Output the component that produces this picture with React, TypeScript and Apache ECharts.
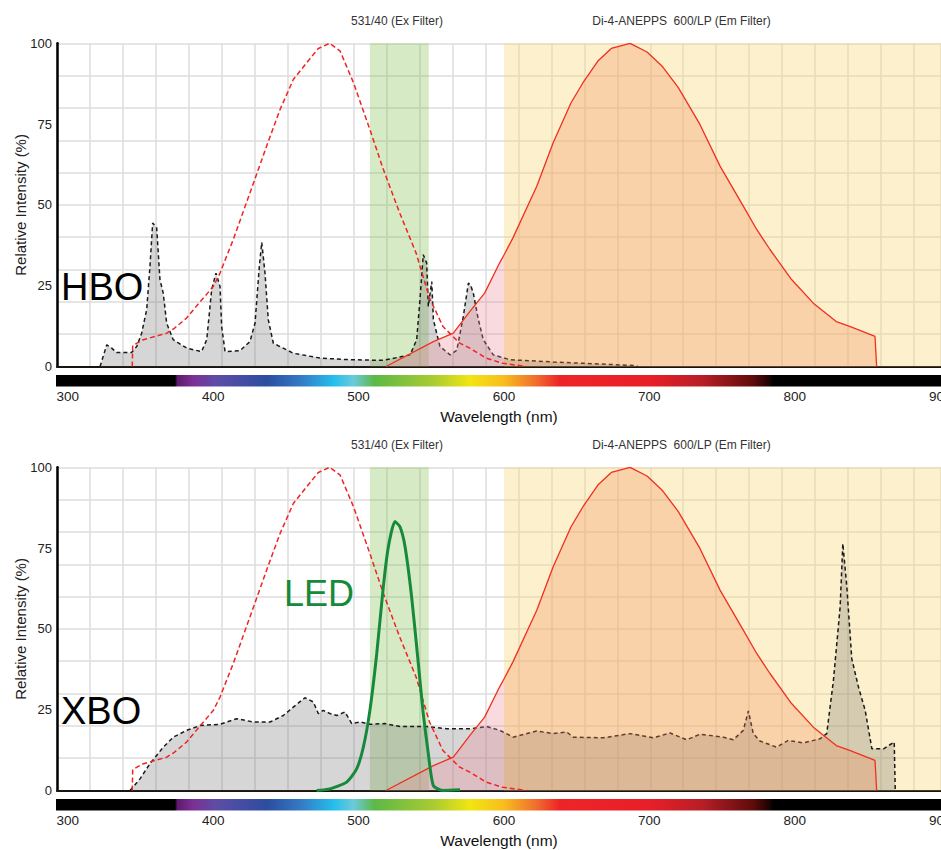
import React, { useEffect, useRef } from "react";
import * as echarts from "echarts";

// ---- data (wavelength nm, relative intensity %) ----
const dyeExcitation: [number, number][] = [
  [350.5, 0], [350.8, 6.5], [358, 8.3], [373.6, 10.3], [379, 11.9], [387, 15], [396, 20], [405, 24.8],
  [409.4, 28.9], [418.3, 39.3], [429.5, 53.7], [440.7, 68.2], [449.7, 79.5], [458.6, 88.8], [467.6, 94],
  [475.4, 98.4], [483, 100], [490, 97.6], [499, 87.8], [510, 73.3], [519, 61], [530, 47.5], [541, 35.1],
  [550, 21.2], [559, 12.4], [570, 7.3], [577, 5.7], [588, 2.6], [599, 1.0], [615, 0],
];

const dyeEmission: [number, number][] = [
  [520.8, 0], [552.6, 7.7], [566, 10.3], [577, 17], [587, 22.7], [597, 32], [600, 34.5], [606, 39.8], [622, 55.8],
  [633, 69.2], [645, 81.6], [653, 87.8], [663, 94.5], [672, 98.4], [684.6, 100], [696, 97.3], [706, 93],
  [717, 86.3], [731.5, 74.9], [745, 62], [760.6, 49.6], [769.6, 42.4], [778.5, 36.2], [793, 26.9],
  [807.6, 19.6], [823, 13.9], [832, 12.4], [849, 9.3], [850.1, 0],
];

const hboSpectrum: [number, number][] = [
  [328.9, 0], [333.4, 6.7], [336.7, 5.7], [340, 4.3], [350, 4.3], [353.5, 6.2], [356.8, 10.3], [360.2, 17.6],
  [362.4, 31], [364.2, 44.4], [366.9, 42.9], [369.1, 26.9], [371.3, 22.7], [373.6, 13.4], [378, 8.3],
  [387, 5.7], [397, 4.6], [400.5, 8.3], [403.8, 23.8], [406.7, 28.9], [409.4, 24.8], [410.5, 12.4],
  [412.8, 4.6], [422.8, 4.9], [429.5, 7.7], [432.9, 13.4], [435.8, 31], [437.4, 38.4], [439.6, 28.9],
  [441.8, 14.5], [445.2, 7.2], [458.6, 4.1], [476.5, 2.6], [496.6, 2.1], [519, 1.9], [537, 3.6],
  [541.4, 8.3], [543.6, 20.7], [545.8, 34.6], [548.1, 32], [549.2, 18.6], [551.5, 26.3], [552.6, 14.5],
  [557, 6.2], [563.8, 3.6], [568.3, 5], [572.7, 15.5], [576.1, 25.8], [577.5, 25.3], [579.4, 22.7],
  [582.8, 14.5], [586.1, 8.3], [592.8, 3.6], [604, 2.1], [633, 1.4], [687, 0.3], [690, 0],
];

const xboSpectrum: [number, number][] = [
  [349, 0], [355.7, 3.6], [362.4, 8.3], [371.3, 13.4], [378, 16.5], [387, 18.6], [396, 20.1], [409.4, 20.5],
  [420.6, 22.2], [431.9, 21.2], [443, 21.2], [451.9, 23.2], [458.6, 25.8], [466.4, 28.7], [472, 27.4],
  [475.4, 23.8], [478.7, 24.8], [483.2, 23.8], [487.7, 23.2], [493.3, 24.3], [497.8, 20.7], [503.4, 21.2],
  [510, 20.5], [520.1, 20.7], [530.2, 19.8], [548.1, 19.8], [561.5, 19.1], [577.2, 19.1], [588.4, 19.8],
  [597.3, 18.6], [606.2, 16.5], [621.9, 18.4], [633.1, 17.6], [642.1, 18.1], [646.5, 16.5], [666.7, 16.3],
  [684.6, 17.6], [700.2, 16.3], [711.4, 17.8], [722.6, 15.7], [731.5, 17.4], [747.2, 16.5], [753.9, 15.7],
  [760.6, 18.6], [764, 24.6], [767.3, 17.6], [771.8, 15.3], [783, 13.4], [790.8, 15.5], [800.9, 14.7],
  [812.1, 16], [816.6, 17.6], [821.1, 34.1], [825.6, 56.8], [827.4, 76.4], [830.1, 63], [833.4, 40.8],
  [837.9, 32], [842.4, 24.8], [846.9, 12.9], [854.7, 12.9], [861.9, 15], [862.6, 0],
];

const ledSpectrum: [number, number][] = [
  [474.3, 0], [483.2, 0.5], [494.4, 2.6], [501.1, 6.7], [505.6, 13.4], [510, 24.8], [514.6, 42.4],
  [519, 63], [522.4, 75.4], [526.8, 83.2], [530.2, 81.6], [533.6, 75.4], [538, 59.9], [542.5, 39.3],
  [545.8, 23.8], [549.2, 11.4], [552.6, 1.5], [559.3, 0], [570.5, 0.2],
];

const exFilterBand: [number, number] = [510, 549.5];
const emFilterStart = 600;
const wavelengthTicks = [300, 400, 500, 600, 700, 800, 900];
const lampNames = ["HBO", "XBO"];
const exFilterLabel = "531/40 (Ex Filter)";
const emFilterLabel = "Di-4-ANEPPS  600/LP (Em Filter)";

// ---- layout ----
const FONT = "'Liberation Sans', Arial, Helvetica, sans-serif";
const PLOT_LEFT = 57;
const PLOT_W = 884;
const PX_PER_NM = 1.49;
const WL_MIN = 300;
const WL_MAX = WL_MIN + PLOT_W / PX_PER_NM;
const GRID_STEP_PX = 32.96;
const LABEL_MIN = 292.6;
const LABEL_MAX = LABEL_MIN + PLOT_W / 1.454;
const PANEL_TOP = [43.3, 467.3];
const PANEL_H = 323.2;

const spectrumStops: [number, string][] = [
  [0, "#000000"], [0.1345, "#000000"], [0.137, "#5f1a6e"], [0.155, "#7b3095"], [0.181, "#5e4ca6"],
  [0.238, "#2c4da0"], [0.276, "#3479c5"], [0.313, "#23bdec"], [0.336, "#6acbdb"], [0.36, "#5db847"],
  [0.426, "#a9cb32"], [0.468, "#f2e512"], [0.505, "#f8be1e"], [0.544, "#f06a2e"], [0.569, "#ed2427"],
  [0.671, "#e81f28"], [0.731, "#b71e27"], [0.788, "#5e0b0b"], [0.807, "#1a0202"], [0.81, "#000000"],
  [1, "#000000"],
];

export default function App() {
  const ref = useRef<HTMLDivElement>(null);
  useEffect(() => {
    if (!ref.current) return;
    const chart = echarts.init(ref.current, undefined, { renderer: "svg" });

    const grids: any[] = [];
    const xAxes: any[] = [];
    const yAxes: any[] = [];
    const series: any[] = [];
    const graphics: any[] = [];

    const emissionShort = dyeEmission.filter(([w]) => w <= emFilterStart);
    const emissionLong = dyeEmission.filter(([w]) => w >= emFilterStart);

    [0, 1].forEach((p) => {
      const top = PANEL_TOP[p];
      grids.push({ left: PLOT_LEFT, top, width: PLOT_W, height: PANEL_H, outerBoundsMode: "none", containLabel: false });
      // data axis
      xAxes.push({
        type: "value", gridIndex: p, position: "bottom", min: WL_MIN, max: WL_MAX,
        axisLine: { show: true, onZero: false, lineStyle: { color: "#1a1410", width: 2.2 } },
        axisTick: { show: false }, axisLabel: { show: false }, splitLine: { show: false },
      });
      // grid-line axis
      xAxes.push({
        type: "value", gridIndex: p, position: "bottom", min: 0, max: PLOT_W, interval: GRID_STEP_PX,
        axisLine: { show: false }, axisTick: { show: false }, axisLabel: { show: false },
        splitLine: { show: true, lineStyle: { color: "#dddddd", width: 1.5 } },
      });
      // label axis
      xAxes.push({
        type: "value", gridIndex: p, position: "bottom", min: LABEL_MIN, max: LABEL_MAX,
        axisLine: { show: false, onZero: false }, axisTick: { show: false }, splitLine: { show: false },
        axisLabel: {
          show: true, margin: 23, fontSize: 13.5, color: "#222", fontFamily: FONT,
          showMinLabel: false, showMaxLabel: false,
          formatter: (v: number) => (wavelengthTicks.includes(Math.round(v * 1000) / 1000) ? String(v) : ""),
        },
        name: "Wavelength (nm)", nameLocation: "middle", nameGap: 42, nameMoveOverlap: false,
        nameTextStyle: { fontSize: 15.5, color: "#111", fontFamily: FONT },
      });
      yAxes.push({
        type: "value", gridIndex: p, position: "left", min: 0, max: 100, interval: 10,
        axisLine: { show: true, onZero: false, lineStyle: { color: "#000", width: 2.5 } },
        axisTick: { show: false }, axisLabel: { show: false },
        splitLine: { show: true, lineStyle: { color: "#dddddd", width: 1.5 } },
      });
      yAxes.push({
        type: "value", gridIndex: p, position: "left", min: 0, max: 100, interval: 25,
        axisLine: { show: false, onZero: false }, axisTick: { show: false }, splitLine: { show: false },
        axisLabel: { show: true, margin: 5, fontSize: 13, color: "#222", fontFamily: FONT },
        name: "Relative Intensity (%)", nameLocation: "middle", nameGap: 29, nameRotate: 90,
        nameMoveOverlap: false,
        nameTextStyle: { fontSize: 15, color: "#222", fontFamily: FONT },
      });

      const xi = p * 3;
      const yi = p * 2;
      // filter bands
      series.push({
        type: "line", xAxisIndex: xi, yAxisIndex: yi, data: [], silent: true, z: 1,
        markArea: {
          silent: true,
          data: [
            [{ xAxis: exFilterBand[0], itemStyle: { color: "rgba(130,195,80,0.33)" } }, { xAxis: exFilterBand[1] }],
            [{ xAxis: emFilterStart, itemStyle: { color: "rgba(250,215,120,0.38)" } }, { xAxis: WL_MAX }],
          ],
        },
      });
      // lamp spectrum
      series.push({
        type: "line", name: lampNames[p], xAxisIndex: xi, yAxisIndex: yi, z: 2,
        data: p === 0 ? hboSpectrum : xboSpectrum, symbol: "none", silent: true,
        lineStyle: { color: "#1a1a1a", width: 1.5, type: [4, 3] },
        areaStyle: { color: "rgba(100,100,100,0.38)" },
      });
      // dye emission: pink fill below 600 nm, orange above
      series.push({
        type: "line", name: "Di-4-ANEPPS emission", xAxisIndex: xi, yAxisIndex: yi, z: 3,
        data: emissionShort, symbol: "none", silent: true,
        lineStyle: { color: "#f0301e", width: 1.3 },
        areaStyle: { color: "rgba(236,138,150,0.45)" },
      });
      series.push({
        type: "line", name: "Di-4-ANEPPS emission", xAxisIndex: xi, yAxisIndex: yi, z: 3,
        data: emissionLong, symbol: "none", silent: true,
        lineStyle: { color: "#f0301e", width: 1.3 },
        areaStyle: { color: "rgba(242,142,93,0.45)" },
      });
      // dye excitation
      series.push({
        type: "line", name: "Di-4-ANEPPS excitation", xAxisIndex: xi, yAxisIndex: yi, z: 4,
        data: dyeExcitation, symbol: "none", silent: true,
        lineStyle: { color: "#f22222", width: 1.5, type: [5, 3] },
      });
      if (p === 1) {
        series.push({
          type: "line", name: "LED", xAxisIndex: xi, yAxisIndex: yi, z: 5,
          data: ledSpectrum, symbol: "none", silent: true, smooth: 0.2,
          lineStyle: { color: "#16893b", width: 3 },
        });
      }

      // colour spectrum bar
      graphics.push({
        type: "rect", shape: { x: 56, y: top + PANEL_H + 8.5, width: 885, height: 11.5 },
        style: {
          fill: new echarts.graphic.LinearGradient(0, 0, 1, 0,
            spectrumStops.map(([offset, color]) => ({ offset, color }))),
        },
        silent: true, z: 10,
      });
      graphics.push({
        type: "text", x: 397, y: top - 22, silent: true,
        style: { text: exFilterLabel, fontSize: 12, fill: "#333", fontFamily: FONT, align: "center", verticalAlign: "middle" },
      });
      graphics.push({
        type: "text", x: 681.5, y: top - 22, silent: true,
        style: { text: emFilterLabel, fontSize: 12, fill: "#333", fontFamily: FONT, align: "center", verticalAlign: "middle" },
      });
      graphics.push({
        type: "text", x: 61, y: top + 244, silent: true, z: 20,
        style: { text: lampNames[p], fontSize: 38, fill: "#000", fontFamily: FONT, align: "left", verticalAlign: "middle" },
      });
    });

    graphics.push({
      type: "text", x: 284, y: 593, silent: true, z: 20,
      style: { text: "LED", fontSize: 36, fill: "#17893a", fontFamily: FONT, align: "left", verticalAlign: "middle" },
    });

    chart.setOption({
      animation: false,
      backgroundColor: "#ffffff",
      grid: grids,
      xAxis: xAxes,
      yAxis: yAxes,
      series,
      graphic: graphics,
    });
    return () => chart.dispose();
  }, []);

  return (
    <div
      ref={ref}
      style={{ position: "absolute", left: 0, top: 0, width: 941, height: 850 }}
    />
  );
}
